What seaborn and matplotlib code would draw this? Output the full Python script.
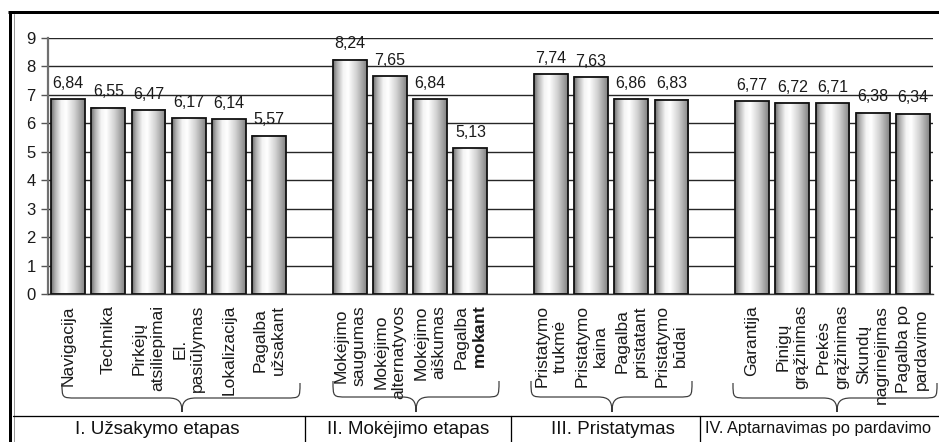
import numpy as np
import pandas as pd
import matplotlib
matplotlib.use("Agg")
import matplotlib.pyplot as plt
from matplotlib.colors import LinearSegmentedColormap
from matplotlib.path import Path
from matplotlib.patches import PathPatch
import seaborn as sns

# ---- data -------------------------------------------------------------
stage_names = ["I. Užsakymo etapas", "II. Mokėjimo etapas",
               "III. Pristatymas", "IV. Aptarnavimas po pardavimo"]

order_aspects = ["Navigacija", "Technika", "Pirkėjų\natsiliepimai",
                 "El.\npasiūlymas", "Lokalizacija", "Pagalba\nužsakant"]
order_scores = [6.84, 6.55, 6.47, 6.17, 6.14, 5.57]

payment_aspects = ["Mokėjimo\nsaugumas", "Mokėjimo\nalternatyvos",
                   "Mokėjimo\naiškumas", "Pagalba\nmokant"]
payment_scores = [8.24, 7.65, 6.84, 5.13]

delivery_aspects = ["Pristatymo\ntrukmė", "Pristatymo\nkaina",
                    "Pagalba\npristatant", "Pristatymo\nbūdai"]
delivery_scores = [7.74, 7.63, 6.86, 6.83]

service_aspects = ["Garantija", "Pinigų\ngrąžinimas", "Prekės\ngrąžinimas",
                   "Skundų\nnagrinėjimas", "Pagalba po\npardavimo"]
service_scores = [6.77, 6.72, 6.71, 6.38, 6.34]

y_ticks = list(range(0, 10))

# ---- table + category order with empty slots between stages -----------
groups = [(order_aspects, order_scores), (payment_aspects, payment_scores),
          (delivery_aspects, delivery_scores), (service_aspects, service_scores)]
rows, slots = [], []
for gi, (names, vals) in enumerate(groups):
    if gi > 0:
        slots.append(" " * gi)          # empty gap slot
    for n, v in zip(names, vals):
        rows.append({"aspektas": n, "vertinimas": v})
        slots.append(n)
df = pd.DataFrame(rows)

# ---- style --------------------------------------------------------------
sns.set_theme(style="white")
plt.rcParams["font.family"] = ["Liberation Sans", "DejaVu Sans"]
plt.rcParams["mathtext.fontset"] = "custom"
plt.rcParams["mathtext.rm"] = "Liberation Sans"
plt.rcParams["mathtext.bf"] = "Liberation Sans:bold"

W, H = 939, 442
fig = plt.figure(figsize=(W / 100, H / 100), dpi=100)
fig.patch.set_facecolor("white")
ax = fig.add_axes([48 / W, 1 - 294 / H, (933 - 48) / W, (294 - 38) / H])
ax.set_facecolor("white")

sns.barplot(data=df, x="aspektas", y="vertinimas", order=slots,
            color="white", width=0.84, errorbar=None, ax=ax)

# shaded bar faces: dark left edge, bright highlight, grey right side
shade = LinearSegmentedColormap.from_list(
    "cyl", [(0.0, "#6c6c6c"), (0.12, "#b0b0b0"), (0.3, "#f4f4f4"),
            (0.45, "#ffffff"), (0.7, "#d0d0d0"), (1.0, "#828282")])
grad = np.linspace(0, 1, 256).reshape(1, -1)
bars = ax.containers[0]
for p in bars:
    x0, y0, w, h = p.get_x(), p.get_y(), p.get_width(), p.get_height()
    if not np.isfinite(h) or h == 0:
        continue
    ax.imshow(grad, cmap=shade, extent=(x0, x0 + w, y0, y0 + h),
              aspect="auto", zorder=2, interpolation="bilinear")
    p.set_facecolor("none")
    p.set_edgecolor("#111111")
    p.set_linewidth(1.3)
    p.set_zorder(3)

ax.bar_label(bars,
             labels=[f"{p.get_height():.2f}".replace(".", ",") for p in bars],
             padding=6, fontsize=11.5, color="#1a1a1a")

ax.set_xlim(-0.5, len(slots) - 0.5)
ax.set_ylim(0, 9)
ax.set_yticks(y_ticks)
ax.set_yticklabels([str(t) for t in y_ticks], fontsize=12, color="#1a1a1a")
ax.yaxis.grid(True, color="#262626", linewidth=1.0)
ax.set_axisbelow(True)

# x tick labels, rotated, with the bold word in "Pagalba mokant"
def tick_text(s):
    if s == "Pagalba\nmokant":
        return "Pagalba\n$\\mathbf{mokant}$"
    return s.strip()

ax.set_xticks(range(len(slots)))
ax.set_xticklabels([tick_text(s) for s in slots], rotation=90,
                   ha="center", va="top", multialignment="center",
                   fontsize=12.5, color="#1a1a1a", linespacing=1.25)
ax.set_xticks(np.arange(-0.5, len(slots), 1), minor=True)
ax.tick_params(axis="x", which="major", length=0, pad=8)
ax.tick_params(axis="x", which="minor", length=5, direction="out",
               color="#333333", width=1)
ax.tick_params(axis="y", which="major", length=5, direction="out",
               color="#555555", width=1, pad=4, left=True)
ax.set_xlabel("")
ax.set_ylabel("")
for side in ["top", "right"]:
    ax.spines[side].set_visible(False)
ax.spines["left"].set_color("#707070")
ax.spines["left"].set_linewidth(1.6)
ax.spines["bottom"].set_color("#333333")
ax.spines["bottom"].set_linewidth(1.0)

# ---- frame, braces and stage table (pixel overlay) ----------------------
deco = fig.add_axes([0, 0, 1, 1], zorder=5)
deco.set_xlim(0, W)
deco.set_ylim(H, 0)
deco.axis("off")
deco.patch.set_alpha(0)

px = 0.72
deco.plot([8, W], [12, 12], color="black", lw=3 * px, solid_capstyle="butt")
deco.plot([9.5, 9.5], [11, H], color="black", lw=3 * px, solid_capstyle="butt")
deco.plot([13.5, 13.5], [13.5, H], color="#9a9a9a", lw=1 * px)
deco.plot([13, W], [415.5, 415.5], color="black", lw=1.3 * px)
for xv in [305, 511, 700]:
    deco.plot([xv, xv], [415.5, H], color="black", lw=1.3 * px)


def brace(x0, x1, ytop, ymid, ytip, xtip=None):
    if xtip is None:
        xtip = (x0 + x1) / 2
    r = 14
    verts = [(x0, ytop),
             (x0, ymid), (x0, ymid), (x0 + r, ymid),
             (xtip - r, ymid),
             (xtip - 3, ymid), (xtip, ymid + 4), (xtip, ytip),
             (xtip, ymid + 4), (xtip + 3, ymid), (xtip + r, ymid),
             (x1 - r, ymid),
             (x1, ymid), (x1, ymid), (x1, ytop)]
    codes = [Path.MOVETO,
             Path.CURVE4, Path.CURVE4, Path.CURVE4,
             Path.LINETO,
             Path.CURVE4, Path.CURVE4, Path.CURVE4,
             Path.CURVE4, Path.CURVE4, Path.CURVE4,
             Path.LINETO,
             Path.CURVE4, Path.CURVE4, Path.CURVE4]
    deco.add_patch(PathPatch(Path(verts, codes), facecolor="none",
                             edgecolor="#3a3a3a", lw=1.2 * px))


brace(62, 300, 383, 398, 412, 182)
brace(333, 499, 381, 397, 412, 416)
brace(531, 692, 381, 397, 412, 612)
brace(733, 937, 383, 398, 412, 837)

label_x = [157.5, 408, 613]
for name, xc in zip(stage_names[:3], label_x):
    deco.text(xc, 429, name, ha="center", va="center", fontsize=13.5,
              color="#111111")
deco.text(705, 429, stage_names[3], ha="left", va="center", fontsize=11.8,
          color="#111111")

fig.savefig("out.png", dpi=100, facecolor="white")
